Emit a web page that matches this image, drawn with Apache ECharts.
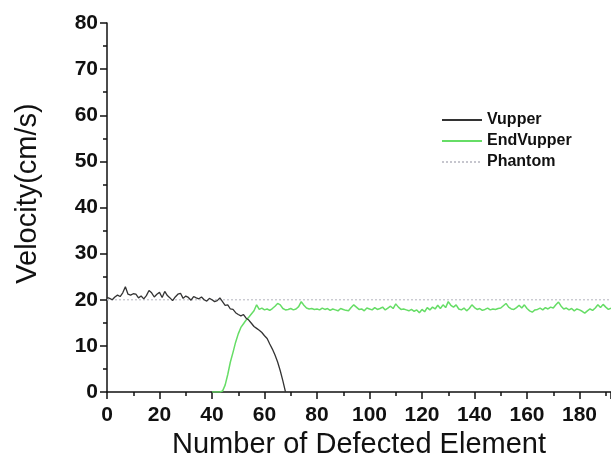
<!DOCTYPE html>
<html>
<head>
<meta charset="utf-8">
<script src="https://cdn.jsdelivr.net/npm/echarts@6/dist/echarts.min.js"></script>
<style>
  html, body { margin: 0; padding: 0; background: #fff; }
  #chart { width: 611px; height: 468px; }
</style>
</head>
<body>
<div id="chart"></div>
<script>
  // Vupper, one value per element starting at element 0
  var vupperStart = 0;
  var vupper = [
    20.5, 20.3, 20.0, 20.6, 21.0, 20.7, 21.5, 22.8, 21.2, 21.0,
    21.3, 21.2, 20.4, 20.8, 20.2, 20.9, 22.0, 21.5, 20.6, 21.2,
    21.6, 20.5, 21.8, 20.9, 20.4, 19.8, 20.6, 21.2, 21.4, 20.3,
    20.8, 20.5, 19.9, 20.7, 20.4, 20.2, 20.6, 20.0, 19.7, 20.3,
    20.0, 19.6, 19.8, 20.4, 19.6, 18.8, 18.9, 18.0, 17.9, 17.2,
    16.8, 16.5, 16.8, 16.0, 15.6, 14.9, 14.2, 13.8, 13.4, 12.9,
    12.2, 11.6, 10.4, 9.3, 8.0, 6.5, 4.6, 2.4, 0.0
  ];

  // EndVupper, starting at element 40
  var endStart = 40;
  var endVupper = [
    0, 0, 0, 0, 0.2, 1.5, 3.8, 6.5, 8.6, 10.8,
    12.6, 14.0, 14.8, 15.6, 16.2, 16.9, 17.6, 18.9, 17.9, 18.2,
    17.8, 18.0, 17.7, 18.1, 18.6, 19.2, 18.9, 18.1, 17.8, 17.9,
    18.1, 17.8, 18.0, 18.5, 19.6, 18.8, 18.2, 18.0, 18.1, 17.9,
    18.0, 17.8, 18.2, 17.9, 18.1, 17.7, 18.0, 17.8, 17.6, 18.1,
    17.9, 17.7, 17.6, 18.3, 18.9, 18.4, 17.9, 18.0, 17.6, 18.2,
    18.0, 17.8, 18.3, 17.9, 18.1, 18.4, 17.8, 18.2, 18.6, 18.1,
    19.1, 18.4, 17.9, 18.0, 17.8, 17.6, 17.9, 17.5, 17.8, 17.2,
    17.9, 17.4, 18.3, 17.8, 18.4, 18.0, 18.8, 18.1, 18.9, 18.3,
    19.6, 18.8, 18.4, 18.9, 18.0, 17.8, 18.2, 17.6, 18.1, 18.9,
    18.3, 17.9, 18.1, 17.7, 17.9, 18.2, 17.8, 18.0, 17.9, 18.1,
    18.2, 18.7, 19.2, 18.4, 18.0, 17.9, 18.3, 18.8, 18.2, 18.9,
    18.1, 17.6, 17.3, 17.8, 17.9, 18.2, 17.8, 18.3, 18.0, 18.4,
    18.2, 18.9, 19.5, 18.6, 18.0, 18.2, 17.8, 18.1, 17.6, 18.0,
    17.8, 17.5, 17.1, 17.6, 18.0, 17.7, 18.2, 18.9, 18.3, 19.0,
    18.4, 17.9, 18.2
  ];

  // Phantom reference level
  var phantomX = [0, 192];
  var phantomY = [20, 20];

  var seriesNames = ['Vupper', 'EndVupper', 'Phantom'];

  function toPairs(start, arr) {
    return arr.map(function (v, i) { return [start + i, v]; });
  }

  var chart = echarts.init(document.getElementById('chart'));
  var font = 'Liberation Sans, Arial, sans-serif';

  chart.setOption({
    animation: false,
    backgroundColor: '#fff',
    grid: { left: 107, right: 0, top: 23, bottom: 76 },
    legend: {
      data: seriesNames,
      orient: 'vertical',
      left: 436,
      top: 107,
      itemWidth: 40,
      itemHeight: 10,
      itemGap: 5,
      itemStyle: { opacity: 0 },
      textStyle: { fontFamily: font, fontSize: 16, fontWeight: 'bold', color: '#111' }
    },
    xAxis: {
      type: 'value',
      min: 0,
      max: 192,
      interval: 20,
      name: 'Number of Defected Element',
      nameLocation: 'middle',
      nameGap: 37,
      nameTextStyle: { fontFamily: font, fontSize: 29, color: '#111' },
      axisLine: { lineStyle: { color: '#111', width: 1.5 } },
      axisTick: { inside: false, length: 7, lineStyle: { color: '#111', width: 1.5 } },
      minorTick: { show: true, splitNumber: 2, length: 4, lineStyle: { color: '#111', width: 1.5 } },
      axisLabel: { margin: 13, showMaxLabel: false, fontFamily: font, fontSize: 21, fontWeight: 'bold', color: '#111' },
      splitLine: { show: false }
    },
    yAxis: {
      type: 'value',
      min: 0,
      max: 80,
      interval: 10,
      name: 'Velocity(cm/s)',
      nameLocation: 'middle',
      nameGap: 65,
      nameTextStyle: { fontFamily: font, fontSize: 29, color: '#111', padding: [0, 0, 0, 28] },
      axisLine: { lineStyle: { color: '#111', width: 1.5 } },
      axisTick: { inside: false, length: 7, lineStyle: { color: '#111', width: 1.5 } },
      minorTick: { show: true, splitNumber: 2, length: 4, lineStyle: { color: '#111', width: 1.5 } },
      axisLabel: { margin: 9, fontFamily: font, fontSize: 21, fontWeight: 'bold', color: '#111' },
      splitLine: { show: false }
    },
    series: [
      {
        name: 'Phantom',
        type: 'line',
        symbol: 'none',
        z: 1,
        data: phantomX.map(function (x, i) { return [x, phantomY[i]]; }),
        lineStyle: { color: '#c6c6ce', width: 1.3, type: [2, 2] },
        itemStyle: { color: '#c6c6ce' }
      },
      {
        name: 'EndVupper',
        type: 'line',
        symbol: 'none',
        z: 2,
        data: toPairs(endStart, endVupper),
        lineStyle: { color: '#66dd66', width: 1.5 },
        itemStyle: { color: '#66dd66' }
      },
      {
        name: 'Vupper',
        type: 'line',
        symbol: 'none',
        z: 3,
        data: toPairs(vupperStart, vupper),
        lineStyle: { color: '#333', width: 1.3 },
        itemStyle: { color: '#333' }
      }
    ]
  });
</script>
</body>
</html>
